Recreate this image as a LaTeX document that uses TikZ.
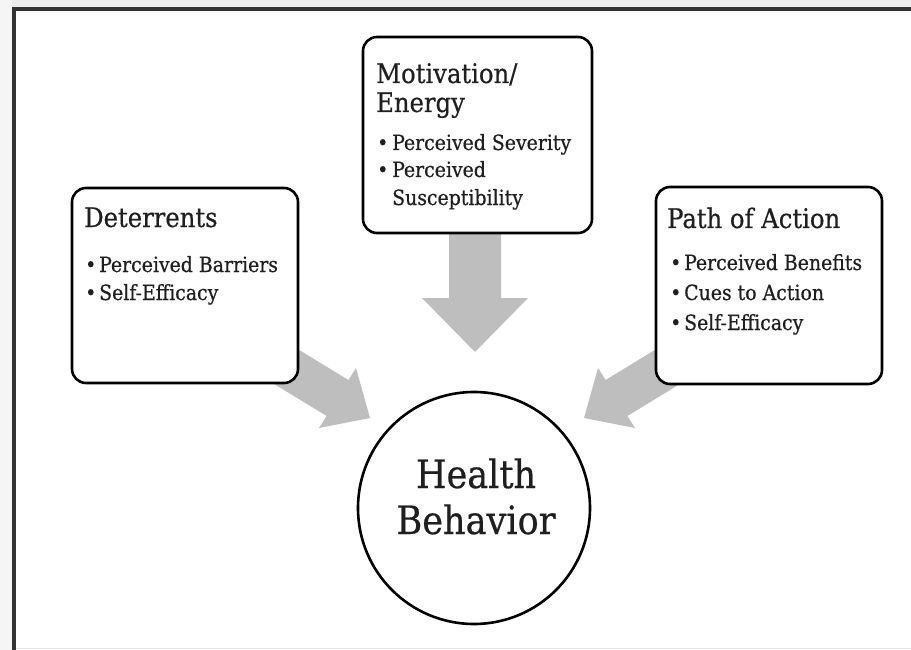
\documentclass[tikz,border=0pt]{standalone}
\usepackage{fontspec}
\setmainfont[FakeBold=0.5]{DejaVu Serif Condensed}
\begin{document}
\begin{tikzpicture}[x=1pt,y=-1pt,
  box/.style={draw=black,line width=2.6pt,rounded corners=14pt,fill=white,inner sep=0pt},
  head/.style={anchor=base west,inner sep=0pt,font=\fontsize{27}{31}\selectfont,text=black!88},
  itm/.style={anchor=base west,inner sep=0pt,font=\fontsize{21}{25}\selectfont,text=black!88},
  blockarrow/.style={fill=arrowgray,draw=none}]
\definecolor{arrowgray}{RGB}{190,190,190}
\useasboundingbox (0,0) rectangle (911,650);
\fill[white] (0,0) rectangle (911,650);
\fill[black!7] (0,0) rectangle (911,8);
\fill[black!4] (0,0) rectangle (12,650);
\draw[black!80,line width=4pt] (14,650) -- (14,9.5) -- (911,9.5);
\draw[black!10,line width=1pt] (16,648.5) -- (911,648.5);
% block arrows (behind the boxes)
\fill[blockarrow] (271.4,333) -- (348.4,380) -- (356,368) -- (370,418) -- (319,428) -- (326.6,416) -- (249.6,369) -- cycle;
\fill[blockarrow] (682.6,333) -- (605.6,380) -- (598,368) -- (584,418) -- (635,428) -- (627.4,416) -- (704.4,369) -- cycle;
\fill[blockarrow] (449,200) -- (449,298) -- (422,298) -- (475,352) -- (528,298) -- (501,298) -- (501,200) -- cycle;
% boxes
\node[box,minimum width=226pt,minimum height=195pt] (det) at (185,285.5) {};
\node[box,minimum width=229pt,minimum height=196pt] (mot) at (477.5,135) {};
\node[box,minimum width=226pt,minimum height=197pt] (pat) at (769,285.5) {};
\node[draw=black,line width=2.6pt,circle,minimum size=232pt,fill=white,inner sep=0pt] (hb) at (474,508) {};
% texts
\node[head] (dett) at (84,227) {Deterrents};
\node[itm] (detb1) at (85,272) {•};
\node[itm] (det1) at (99,272) {Perceived Barriers};
\node[itm] (detb2) at (85,300) {•};
\node[itm] (det2) at (99,300) {Self-Efficacy};
\node[head] (mott1) at (376,83) {Motivation/};
\node[head] (mott2) at (376,112) {Energy};
\node[itm] (motb1) at (377,150) {•};
\node[itm] (mot1) at (392,150) {Perceived Severity};
\node[itm] (motb2) at (377,177) {•};
\node[itm] (mot2) at (392,177) {Perceived};
\node[itm] (mot3) at (392,205) {Susceptibility};
\node[head] (patt) at (667,228) {Path of Action};
\node[itm] (patb1) at (670,270) {•};
\node[itm] (pat1) at (684,270) {Perceived Benefits};
\node[itm] (patb2) at (670,300) {•};
\node[itm] (pat2) at (684,300) {Cues to Action};
\node[itm] (patb3) at (670,330) {•};
\node[itm] (pat3) at (684,330) {Self-Efficacy};
\node[anchor=base,inner sep=0pt,font=\fontsize{39}{45}\selectfont,text=black!88] (hb1) at (476,488) {Health};
\node[anchor=base,inner sep=0pt,font=\fontsize{39}{45}\selectfont,text=black!88] (hb2) at (476,534) {Behavior};
\end{tikzpicture}
\end{document}
